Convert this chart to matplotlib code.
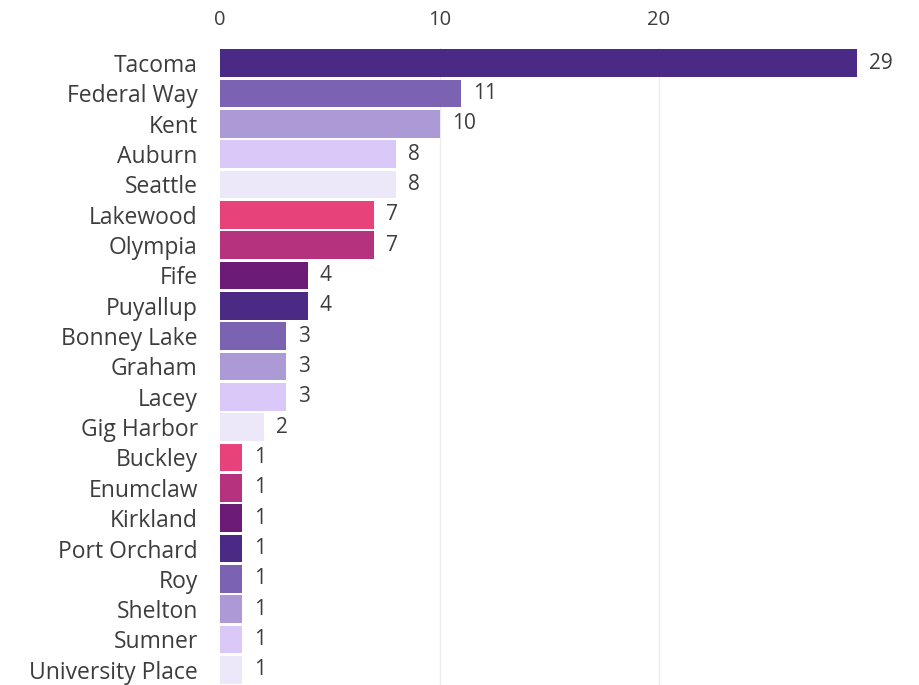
import matplotlib
matplotlib.use("Agg")
import matplotlib.pyplot as plt

cities = ["Tacoma", "Federal Way", "Kent", "Auburn", "Seattle", "Lakewood",
          "Olympia", "Fife", "Puyallup", "Bonney Lake", "Graham", "Lacey",
          "Gig Harbor", "Buckley", "Enumclaw", "Kirkland", "Port Orchard",
          "Roy", "Shelton", "Sumner", "University Place"]
counts = [29, 11, 10, 8, 8, 7, 7, 4, 4, 3, 3, 3, 2, 1, 1, 1, 1, 1, 1, 1, 1]
palette = ["#4B2A86", "#7B62B2", "#AB9AD6", "#D9C8F8", "#ECE8FA",
           "#E8427B", "#B5327E", "#6C1B77"]
xticks = [0, 10, 20]

plt.rcParams["font.family"] = ["Open Sans", "DejaVu Sans"]
text_col = "#3d3d3d"

fig = plt.figure(figsize=(9.19, 6.85), dpi=100)
ax = fig.add_axes([220 / 919, 0, 658.5 / 919, 637 / 685])

ypos = list(range(len(cities)))
colors = [palette[i % len(palette)] for i in ypos]
ax.barh(ypos, counts, height=0.92, color=colors, zorder=2)

for y, v in zip(ypos, counts):
    ax.text(v + 0.55, y, str(v), va="center", ha="left",
            fontsize=15, color=text_col)

ax.set_xlim(0, 30)
ax.set_ylim(len(cities) - 0.5, -0.5)
ax.set_yticks(ypos)
ax.set_yticklabels(cities, fontsize=16.5, color=text_col)
ax.set_xticks(xticks)
ax.set_xticklabels([str(t) for t in xticks], fontsize=14.5, color=text_col)
ax.xaxis.tick_top()
ax.tick_params(axis="both", length=0)
ax.tick_params(axis="x", pad=13)
ax.tick_params(axis="y", pad=16)

for t in xticks[1:]:
    ax.axvline(t, color="#ececec", lw=1.0, zorder=1)

for s in ax.spines.values():
    s.set_visible(False)

fig.savefig("out.png", dpi=100)
